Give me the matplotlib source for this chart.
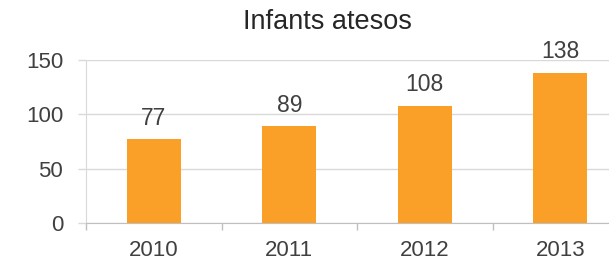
import matplotlib.pyplot as plt

years = ["2010", "2011", "2012", "2013"]
values = [77, 89, 108, 138]

plt.rcParams['font.family'] = ['Liberation Sans', 'DejaVu Sans']

fig = plt.figure(figsize=(6.09, 2.62), dpi=100)
ax = fig.add_axes([86 / 609, 39 / 262, 542 / 609, 163 / 262])

x = range(len(years))
ax.bar(x, values, width=0.4, color="#FA9F27", zorder=3)
for xi, v in zip(x, values):
    ax.annotate(str(v), (xi, v), xytext=(0, 7), textcoords="offset points",
                ha="center", va="bottom", fontsize=16.5, color="#404040",
                annotation_clip=False)

ax.set_xlim(-0.5, 3.5)
ax.set_ylim(0, 150)
ax.set_yticks([0, 50, 100, 150])
ax.set_xticks(list(x))
ax.set_xticklabels(years)
ax.set_xticks([-0.5, 0.5, 1.5, 2.5, 3.5], minor=True)
ax.tick_params(axis="x", which="major", length=0, pad=12, labelsize=16, labelcolor="#404040")
ax.tick_params(axis="x", which="minor", length=5, color="#bfbfbf", width=1)
ax.tick_params(axis="y", length=5.5, color="#d9d9d9", width=1, pad=11,
               labelsize=16, labelcolor="#404040")
ax.grid(axis="y", color="#d9d9d9", linewidth=1, zorder=0)

for s in ["top", "right"]:
    ax.spines[s].set_visible(False)
ax.spines["left"].set_color("#d9d9d9")
ax.spines["bottom"].set_color("#bfbfbf")

fig.text(327 / 609, 1 - 22 / 262, "Infants atesos", ha="center", va="center",
         fontsize=19.5, color="#262626")

fig.savefig("out.png", dpi=100)
